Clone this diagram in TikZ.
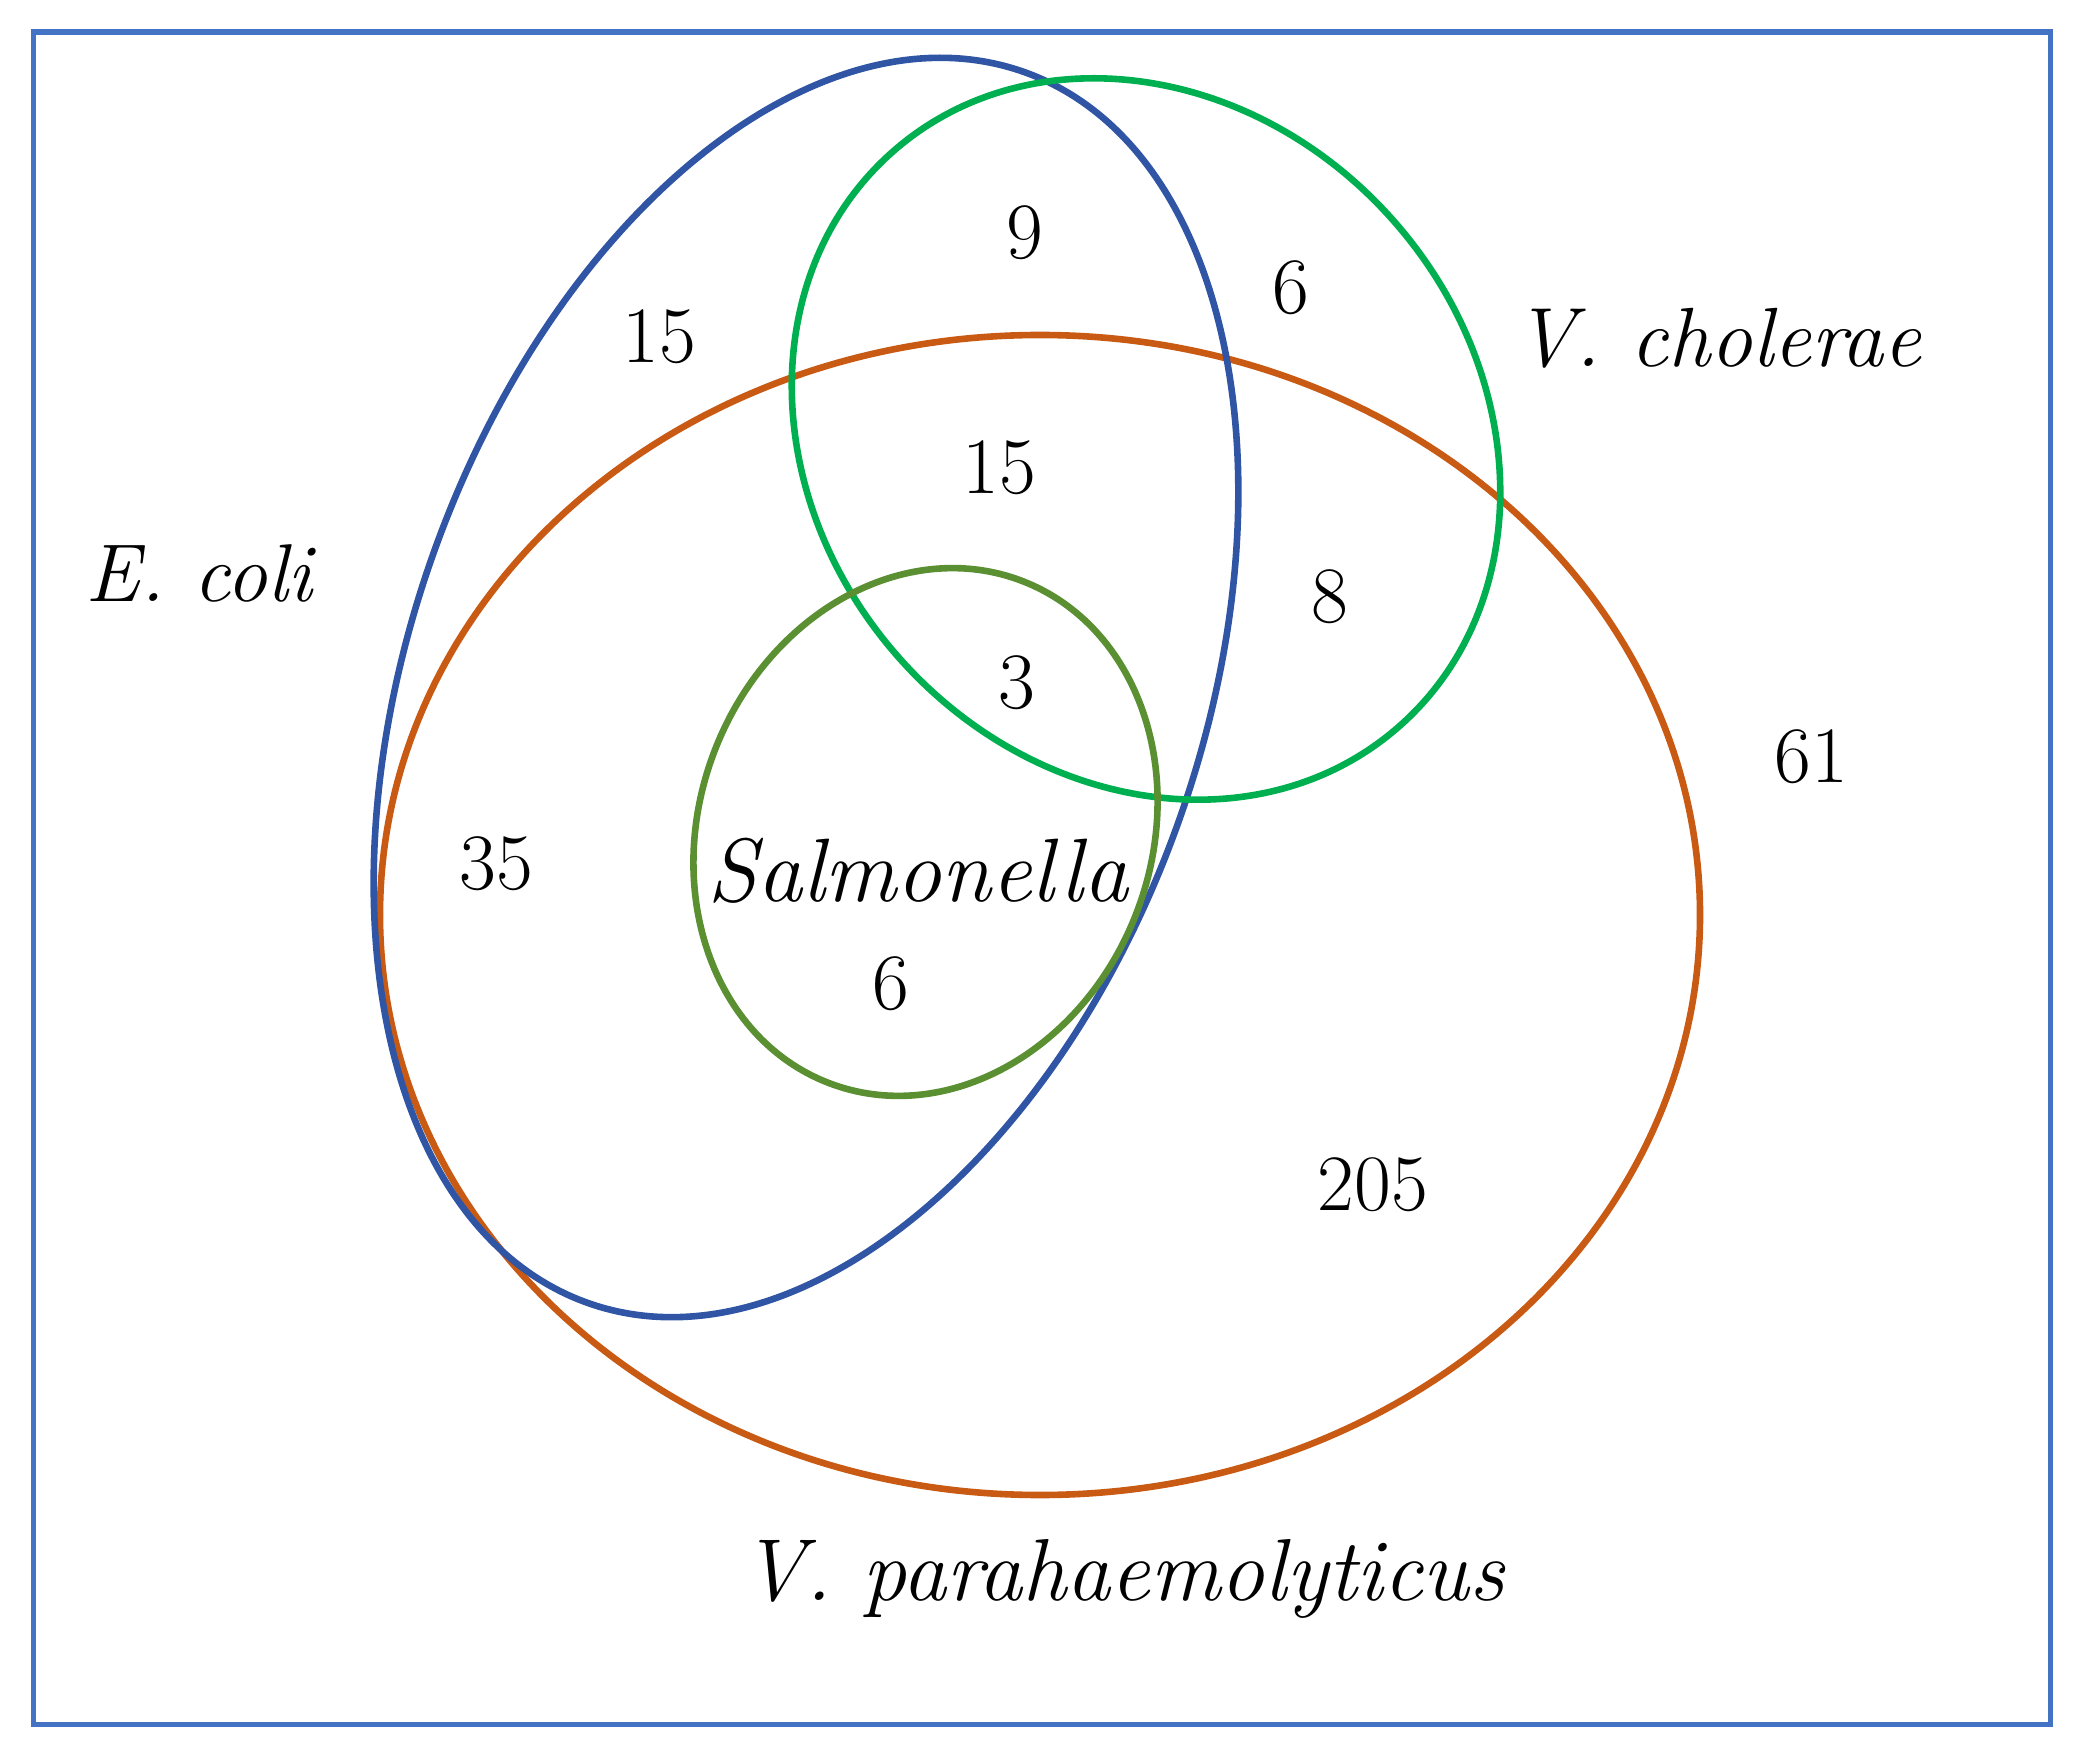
\documentclass[tikz,border=0pt]{standalone}
\usepackage{tikz}
\definecolor{framecol}{HTML}{4472C4}
\definecolor{ecolicol}{HTML}{2F55A4}
\definecolor{vcholcol}{HTML}{00B050}
\definecolor{vparacol}{HTML}{C85A14}
\definecolor{salmcol}{HTML}{5A8F32}
\begin{document}
\begin{tikzpicture}[x=0.5pt,y=0.5pt,
  venn/.style={line width=3.3pt},
  numlbl/.style={font=\fontsize{40}{44}\selectfont, inner sep=0pt},
  namelbl/.style={font=\fontsize{41}{45}\selectfont\itshape, inner sep=0pt}]
\useasboundingbox (0,0) rectangle (2080,1752);
% frame
\draw[framecol, line width=2.8pt] (33.5,1720) rectangle (2050.5,27.5);
% ellipses (y measured upward: Y = 1752 - y)
\draw[venn, vparacol] (1040,837) ellipse [x radius=660, y radius=580];
\draw[venn, ecolicol, rotate around={70.5:(806,1064.5)}] (806,1064.5) ellipse [x radius=653, y radius=396];
\draw[venn, vcholcol, rotate around={-48.5:(1146,1313)}] (1146,1313) ellipse [x radius=383, y radius=330];
\draw[venn, salmcol, rotate around={68.9:(925.5,920)}] (925.5,920) ellipse [x radius=269, y radius=226];
% names
\node[namelbl] (ecoli) at (199,1179) {E. coli};
\node[namelbl, font=\fontsize{42}{46}\selectfont\itshape] (vchol) at (1718,1414) {V. cholerae};
\node[namelbl, font=\fontsize{44}{48}\selectfont\itshape] (vpara) at (1123,173) {V. parahaemolyticus};
\node[namelbl, font=\fontsize{45}{49}\selectfont\itshape] (salm) at (918,881) {Salmonella};
% counts
\node[numlbl] (n15a) at (659,1415) {15};
\node[numlbl] (n9) at (1025,1519) {9};
\node[numlbl] (n6a) at (1291,1464) {6};
\node[numlbl] (n15b) at (999,1284) {15};
\node[numlbl] (n8) at (1330,1155) {8};
\node[numlbl] (n3) at (1017,1069) {3};
\node[numlbl] (n61) at (1811,995) {61};
\node[numlbl] (n35) at (496,888) {35};
\node[numlbl] (n6b) at (891,768) {6};
\node[numlbl] (n205) at (1373,567) {205};
\end{tikzpicture}
\end{document}
